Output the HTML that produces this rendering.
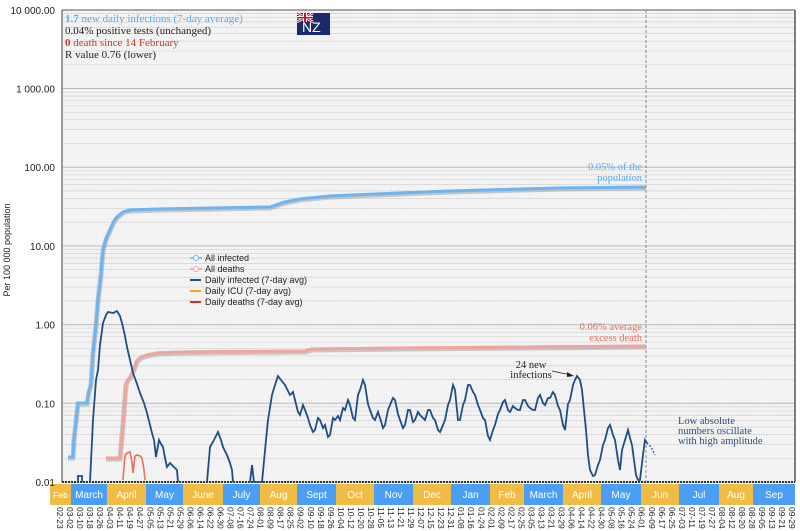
<!DOCTYPE html>
<html><head><meta charset="utf-8"><style>
html,body{margin:0;padding:0;background:#fff;width:800px;height:531px;overflow:hidden}
svg{display:block}
</style></head><body>
<svg id="s" width="800" height="531" viewBox="0 0 800 531" xmlns="http://www.w3.org/2000/svg" font-family="Liberation Sans, sans-serif">
<rect x="62" y="10" width="733" height="472" fill="#f6f6f6"/>
<g id="grid"></g>
<g id="bands"></g>
<g id="dates" font-size="8.5" fill="#222"></g>
<g id="yl" font-size="10" fill="#222" text-anchor="end"></g>
<text transform="translate(10,250) rotate(-90)" font-size="9" text-anchor="middle" fill="#222">Per 100 000 population</text>
<line x1="62" y1="10" x2="62" y2="482" stroke="#999" stroke-width="2"/>
<line x1="795" y1="10" x2="795" y2="482" stroke="#555" stroke-width="1.5"/>
<line x1="62" y1="10" x2="795" y2="10" stroke="#555" stroke-width="1"/>
<line x1="62" y1="482" x2="795" y2="482" stroke="#333" stroke-width="2" stroke-dasharray="2,1"/>
<line x1="646" y1="10" x2="646" y2="482" stroke="#888" stroke-width="1" stroke-dasharray="3,2"/>
<!-- all infected -->
<polyline fill="none" stroke="#999" stroke-width="5" opacity="0.5" points="68,458 73,458 74,440 76,422 78,404 87,404 89,392 91,385 93,354 96,326 98,301 101,275 103,251 106,240 110,231 114,222 117,218 123,213 130,211 160,210 270,208 285,203 300,200 330,197 400,194 450,192 560,189 646,188"/>
<polyline fill="none" stroke="#6cb4f2" stroke-width="3" points="68,457 73,457 74,439 76,421 78,403 87,403 89,391 91,384 93,353 96,325 98,300 101,274 103,250 106,239 110,230 114,221 117,217 123,212 130,210 160,209 270,207 285,202 300,199 330,196 400,193 450,191 560,188 646,187"/>
<!-- all deaths -->
<polyline fill="none" stroke="#999" stroke-width="5" opacity="0.5" points="106,459 120,459 123,425 126,385 128,381 131,377 134,370 137,362 141,358 147,356 152,355 157,354 180,353 305,352 312,350 400,349 646,347"/>
<polyline fill="none" stroke="#f0a49c" stroke-width="3" points="106,458 120,458 123,424 126,384 128,380 131,376 134,369 137,361 141,357 147,355 152,354 157,353 180,352 305,351 312,349 400,348 646,346"/>
<!-- daily deaths -->
<polyline fill="none" stroke="#e8705f" stroke-width="1.6" points="123,480 125,455 127,453 130,452 132,462 133,473 135,456 137,455 140,456 142,458 144,470 145,480"/>
<!-- daily infected -->
<polyline fill="none" stroke="#1f4e86" stroke-width="1.8" points="78,482 78,476 82,476 82,482"/>
<polyline fill="none" stroke="#1f4e86" stroke-width="1.8" points="90,482 93,420 96,380 98,370 100,345 103,323 106,315 108,312 113,313 117,311 120,316 122,323 125,336 127,347 130,360 133,373 137,384 140,393 144,403 147,413 150,425 152,433 154,440 156,457 159,440 161,444 163,447 165,458 167,467 170,463 173,466 177,470 178,482"/>
<polyline fill="none" stroke="#1f4e86" stroke-width="1.8" points="207,482 210,447 214,440 218,432 221,440 223,447 227,455 230,463 232,470 233,482"/>
<polyline fill="none" stroke="#1f4e86" stroke-width="1.8" points="250,482 252,465 254,482 262,482 266,440 268,420 272,395 275,385 278,376 281,380 285,385 290,395 293,392 295,400 298,412 300,415 303,405 305,410 308,418 310,425 313,432 315,430 318,418 320,420 323,428 325,425 328,437 330,435 333,418 335,420 338,416 340,420 343,408 345,410 348,400 350,405 353,418 355,420 358,395 360,390 363,380 365,385 368,404 370,410 373,418 375,420 378,412 380,418 383,428 385,425 388,410 390,405 393,398 395,400 398,414 400,420 403,428 405,425 408,410 410,410 413,422 415,420 418,412 420,415 423,418 425,420 428,410 430,410 433,418 435,420 438,430 440,432 443,425 445,420 448,405 450,400 453,385 455,390 458,420 460,420 463,405 465,400 468,385 470,385 473,392 475,395 478,405 480,410 483,418 485,420 488,436 490,440 493,430 495,425 498,414 500,410 503,402 505,400 508,410 510,412 513,406 515,408 518,410 520,410 523,400 525,400 528,406 530,408 533,410 535,410 538,398 540,395 543,403 545,405 548,398 550,398 553,392 555,395 558,406 560,410 563,425 565,430 568,404 570,400 573,385 575,380 577,376 580,380 582,390 584,410 586,430 588,455 590,470 593,476 595,475 598,465 600,460 603,445 605,440 608,428 610,425 613,435 615,440 618,460 620,470 622,450 625,440 628,430 630,438 632,445 634,460 636,475 638,480 640,480 643,455 645,440 647,443"/>
<polyline fill="none" stroke="#1f4e86" stroke-width="1.5" stroke-dasharray="1.5,2" points="647,443 651,447 655,455"/>
<!-- annotations -->
<g font-family="Liberation Serif, serif" font-size="10.5">
<text x="642" y="170" text-anchor="end" fill="#5aa9f0">0.05% of the</text>
<text x="642" y="181" text-anchor="end" fill="#5aa9f0">population</text>
<text x="642" y="330" text-anchor="end" fill="#e8705f">0.06% average</text>
<text x="642" y="341" text-anchor="end" fill="#e8705f">excess death</text>
<text x="531" y="368" text-anchor="middle" fill="#222">24 new</text>
<text x="531" y="378" text-anchor="middle" fill="#222">infections</text>
<text x="678" y="424" fill="#2c4f7c">Low absolute</text>
<text x="678" y="434" fill="#2c4f7c">numbers oscillate</text>
<text x="678" y="444" fill="#2c4f7c">with high amplitude</text>
</g>
<line x1="552" y1="371" x2="571" y2="375" stroke="#222" stroke-width="0.8"/>
<polygon points="574,376 567,372 567,377" fill="#222"/>
<!-- info text -->
<g font-family="Liberation Serif, serif" font-size="11">
<text x="65" y="22" fill="#5aa9f0"><tspan font-weight="bold">1.7</tspan> new daily infections (7-day average)</text>
<text x="65" y="34" fill="#222">0.04% positive tests (unchanged)</text>
<text x="65" y="46" fill="#c0392b"><tspan font-weight="bold">0</tspan> death since 14 February</text>
<text x="65" y="58" fill="#222">R value 0.76 (lower)</text>
</g>
<!-- flag -->
<rect x="297" y="13" width="33" height="22" fill="#1a2a6c"/>
<line x1="297" y1="13" x2="313" y2="22" stroke="#fff" stroke-width="2.5"/>
<line x1="313" y1="13" x2="297" y2="22" stroke="#fff" stroke-width="2.5"/>
<line x1="297" y1="13" x2="313" y2="22" stroke="#c8102e" stroke-width="1"/>
<line x1="313" y1="13" x2="297" y2="22" stroke="#c8102e" stroke-width="1"/>
<rect x="303" y="13" width="4" height="9" fill="#fff"/><rect x="297" y="16" width="16" height="3" fill="#fff"/>
<rect x="304" y="13" width="2" height="9" fill="#c8102e"/><rect x="297" y="17" width="16" height="1.5" fill="#c8102e"/>
<text x="302" y="32" font-size="14" fill="#fff">NZ</text>
<!-- legend -->
<g font-size="9" fill="#222">
<line x1="190" y1="258" x2="202" y2="258" stroke="#6cb4f2" stroke-width="1.5"/><circle cx="196" cy="258" r="2.5" fill="#fff" stroke="#6cb4f2"/>
<text x="205" y="261">All infected</text>
<line x1="190" y1="269" x2="202" y2="269" stroke="#f0a49c" stroke-width="1.5"/><circle cx="196" cy="269" r="2.5" fill="#fff" stroke="#f0a49c"/>
<text x="205" y="272">All deaths</text>
<line x1="190" y1="280" x2="201" y2="280" stroke="#1f4e86" stroke-width="2"/><text x="205" y="283">Daily infected (7-day avg)</text>
<line x1="190" y1="291" x2="201" y2="291" stroke="#f5a623" stroke-width="2"/><text x="205" y="294">Daily ICU (7-day avg)</text>
<line x1="190" y1="302" x2="201" y2="302" stroke="#d0312d" stroke-width="2"/><text x="205" y="305">Daily deaths (7-day avg)</text>
</g>
</svg>
<script>
var NS="http://www.w3.org/2000/svg";
function el(p,t,a,txt){var e=document.createElementNS(NS,t);for(var k in a)e.setAttribute(k,a[k]);if(txt!=null)e.textContent=txt;document.getElementById(p).appendChild(e);return e;}
function Y(v){return 482-78.7*(Math.log10(v)+2);}
for(var x=64;x<795;x+=2.5)el("grid","line",{x1:x,y1:10,x2:x,y2:482,stroke:"#e6e6e6","stroke-width":0.5});
for(var d=-2;d<4;d++)for(var m=1;m<10;m++){var y=Y(m*Math.pow(10,d));el("grid","line",{x1:62,y1:y,x2:795,y2:y,stroke:m==1?"#bbb":"#d4d4d4","stroke-width":m==1?1:0.7});}
var yl=["0.01","0.10","1.00","10.00","100.00","1 000.00","10 000.00"];
for(var i=0;i<7;i++)el("yl","text",{x:55,y:Y(Math.pow(10,i-2))+4},yl[i]);
var bands=[["Feb",50,71],["March",71,107],["April",107,146],["May",146,183],["June",183,223],["July",223,260],["Aug",260,297],["Sept",297,336],["Oct",336,374],["Nov",374,413],["Dec",413,451],["Jan",451,490],["Feb",490,524],["March",524,563],["April",563,601],["May",601,641],["Jun",641,679],["Jul",679,719],["Aug",719,753],["Sep",753,795]];
bands.forEach(function(b,i){el("bands","rect",{x:b[1],y:484,width:b[2]-b[1],height:21,fill:i%2?"#4a9ff5":"#f0bc46"});el("bands","text",{x:(b[1]+b[2])/2,y:498,"text-anchor":"middle","font-size":i==0?8.5:10,fill:"#fff"},b[0]);});
var dt=new Date(Date.UTC(2020,1,23));
for(var i=0;i<74;i++){var x=60+i*10.03;var s=("0"+(dt.getUTCMonth()+1)).slice(-2)+"-"+("0"+dt.getUTCDate()).slice(-2);
el("dates","text",{transform:"translate("+(x-3)+",507) rotate(90)"},s);dt=new Date(dt.getTime()+8*864e5);}
</script>
</body></html>
